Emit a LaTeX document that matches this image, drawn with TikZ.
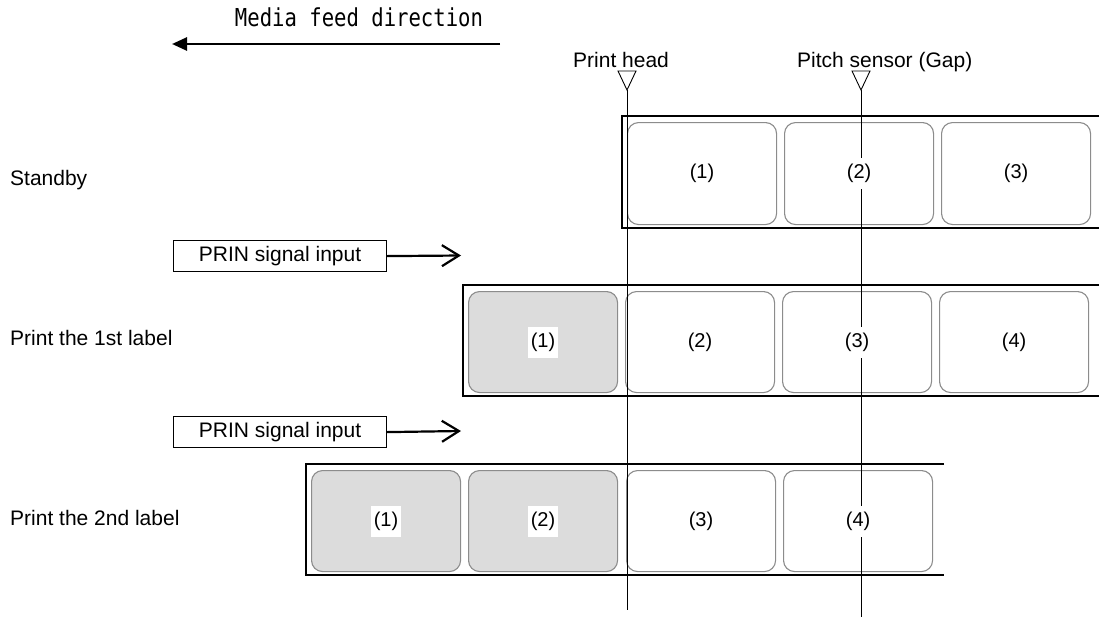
\documentclass[tikz,border=0pt]{standalone}
\usepackage{fontspec}
\usepackage{graphicx}
\setmainfont{Liberation Sans}
\newfontfamily\feedfont{DejaVu Sans Mono}
\usetikzlibrary{arrows.meta}
\definecolor{lblgray}{HTML}{DCDCDC}
\definecolor{lblborder}{HTML}{8C8C8C}
\begin{document}
\begin{tikzpicture}[x=1pt,y=-1pt,
  lbl/.style={draw=lblborder, line width=1.1pt, rounded corners=11pt, minimum width=149pt, minimum height=101pt, inner sep=0pt, fill=white, anchor=north west},
  done/.style={lbl, fill=lblgray},
  num/.style={fill=white, inner xsep=3pt, inner ysep=0pt, minimum height=31pt, font=\fontsize{20}{24}\selectfont},
  txt/.style={font=\fontsize{21}{25}\selectfont, inner sep=0pt},
  strip/.style={line width=1.3pt},
  ptr/.style={line width=0.9pt},
  prin/.style={draw, line width=1.2pt, minimum width=213pt, minimum height=31pt, inner sep=0pt, anchor=north west, font=\fontsize{21}{25}\selectfont},
  sig/.style={line width=2.2pt, -{Straight Barb[length=17pt,width=21pt,line width=2.2pt]}}
]
\useasboundingbox (0,0) rectangle (1102,618);

% media feed direction
\node[anchor=base, inner sep=0pt] (feedtxt) at (359,27) {\feedfont\fontsize{20.6}{24}\selectfont\scalebox{1}[1.2]{Media feed direction}};
\coordinate (feedR) at (500,44);
\coordinate (feedL) at (172,44);
\draw[line width=2.6pt, -{Triangle[length=15pt,width=13pt]}] (feedR) -- (feedL);

% row names
\node[txt, anchor=base west] (standby) at (10,185) {Standby};
\node[txt, anchor=base west] (first) at (10,345) {Print the 1st label};
\node[txt, anchor=base west] (second) at (10,525) {Print the 2nd label};

% strips
\draw[strip] (1099,116) -- (622,116) -- (622,228) -- (1099,228);
\draw[strip] (1099,285) -- (463,285) -- (463,396) -- (1099,396);
\draw[strip] (944,464) -- (306,464) -- (306,575) -- (944,575);

% labels row 1
\node[lbl, minimum height=102pt] (a1) at (627,122) {};
\node[lbl, minimum height=102pt] (a2) at (784,122) {};
\node[lbl, minimum height=102pt] (a3) at (941,122) {};
% labels row 2
\node[done] (b1) at (468,291) {};
\node[lbl] (b2) at (625,291) {};
\node[lbl] (b3) at (782,291) {};
\node[lbl] (b4) at (939,291) {};
% labels row 3
\node[done] (c1) at (311,470) {};
\node[done] (c2) at (468,470) {};
\node[lbl] (c3) at (626,470) {};
\node[lbl] (c4) at (783,470) {};

% print head and pitch sensor
\node[txt, anchor=base west] (headlbl) at (573,67) {Print head};
\node[txt, anchor=base west] (senslbl) at (797,67) {Pitch sensor (Gap)};
\coordinate (headtop) at (627,90);
\coordinate (headbot) at (627,610);
\coordinate (senstop) at (861,90);
\coordinate (sensbot) at (861,617);
\draw[ptr] (618,71) -- (636,71) -- (headtop) -- cycle;
\draw[ptr] (852,71) -- (870,71) -- (senstop) -- cycle;
\draw[ptr] (headtop) -- (headbot);
\draw[ptr] (senstop) -- (sensbot);

% numbers
\node[num] (na1) at (a1.center) {(1)};
\node[num] (na2) at (a2.center) {(2)};
\node[num] (na3) at (a3.center) {(3)};
\node[num] (nb1) at (b1.center) {(1)};
\node[num] (nb2) at (b2.center) {(2)};
\node[num] (nb3) at (b3.center) {(3)};
\node[num] (nb4) at (b4.center) {(4)};
\node[num] (nc1) at (c1.center) {(1)};
\node[num] (nc2) at (c2.center) {(2)};
\node[num] (nc3) at (c3.center) {(3)};
\node[num] (nc4) at (c4.center) {(4)};

% PRIN signal inputs
\node[prin] (prin1) at (173,240) {PRIN signal input};
\coordinate (prin1end) at (461,255.5);
\draw[sig] (prin1.east) -- (prin1end);
\node[prin] (prin2) at (173,416) {PRIN signal input};
\coordinate (prin2end) at (461,431);
\draw[sig] (prin2.east) -- (prin2end);
\end{tikzpicture}
\end{document}
